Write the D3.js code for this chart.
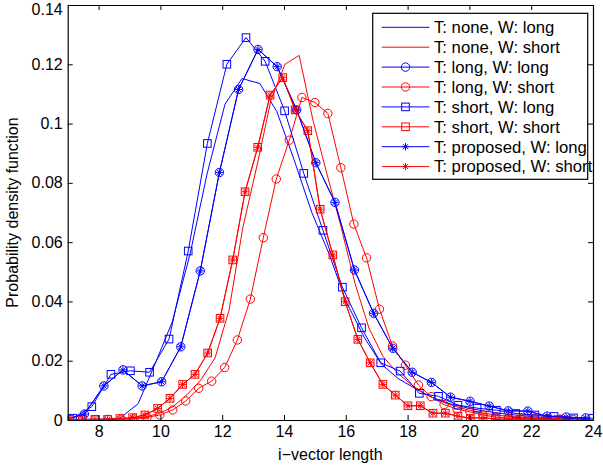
<!DOCTYPE html>
<html>
<head>
<meta charset="utf-8">
<script src="https://cdn.jsdelivr.net/npm/d3@7"></script>
<style>
  body { margin: 0; background: #fff; }
  svg { font-family: "Liberation Sans", Arial, sans-serif; }
</style>
</head>
<body>
<script>
// bin centres and pdf values
const xNoneLong = [7.01, 7.56, 8.14, 8.69, 9.28, 9.83, 10.38, 10.96, 11.51, 12.09, 12.64, 13.22, 13.77, 14.32, 14.90, 15.46, 16.01, 16.59, 17.14, 17.69, 18.27, 18.82, 19.37, 19.95, 20.50, 21.05, 21.64, 22.19, 22.74, 23.32, 23.87];
const yNoneLong = [0.0002, 0.0002, 0.0003, 0.0006, 0.0055, 0.019, 0.033, 0.056, 0.083, 0.1065, 0.1152, 0.1135, 0.104, 0.088, 0.070, 0.056, 0.040, 0.028, 0.019, 0.014, 0.0105, 0.0075, 0.0055, 0.004, 0.003, 0.0022, 0.0015, 0.001, 0.0007, 0.0005, 0.0003];

const xNoneShort = [7.24, 7.69, 8.14, 8.60, 9.05, 9.50, 9.96, 10.41, 10.86, 11.31, 11.77, 12.22, 12.67, 13.13, 13.58, 14.03, 14.49, 14.94, 15.39, 15.85, 16.30, 16.75, 17.20, 17.66, 18.11, 18.56, 19.02, 19.47, 19.92, 20.38, 20.83, 21.28, 21.73, 22.19, 22.64, 23.09, 23.55, 24.00];
const yNoneShort = [0, 0, 0.0001, 0.0002, 0.0004, 0.001, 0.0022, 0.0045, 0.0085, 0.0135, 0.021, 0.037, 0.065, 0.086, 0.108, 0.120, 0.123, 0.101, 0.083, 0.065, 0.046, 0.031, 0.0215, 0.016, 0.012, 0.0088, 0.0065, 0.0048, 0.0035, 0.0025, 0.0017, 0.0012, 0.0009, 0.0006, 0.0004, 0.0003, 0.0002, 0.0001];

const xLongLong = [6.92, 7.54, 8.17, 8.79, 9.41, 10.04, 10.66, 11.29, 11.91, 12.53, 13.16, 13.78, 14.41, 15.03, 15.65, 16.28, 16.90, 17.52, 18.15, 18.77, 19.39, 20.02, 20.64, 21.26, 21.89, 22.51, 23.13, 23.76];
const yLongLong = [0.0001, 0.002, 0.0115, 0.0169, 0.0115, 0.0129, 0.0247, 0.0503, 0.0835, 0.1115, 0.125, 0.1192, 0.1046, 0.0868, 0.0734, 0.0506, 0.036, 0.0242, 0.0161, 0.0127, 0.0077, 0.0063, 0.0047, 0.0031, 0.0030, 0.0013, 0.0010, 0.0007];

const xLongShort = [7.06, 7.48, 7.89, 8.31, 8.73, 9.15, 9.57, 9.98, 10.40, 10.82, 11.24, 11.66, 12.08, 12.49, 12.91, 13.33, 13.75, 14.17, 14.58, 15.00, 15.42, 15.84, 16.26, 16.67, 17.09, 17.51, 17.93, 18.35, 18.76, 19.18, 19.60, 20.02, 20.44, 20.85, 21.27, 21.69, 22.11, 22.53, 22.94, 23.36];
const yLongShort = [0.0001, 0.0001, 0.0001, 0.0002, 0.0003, 0.0004, 0.0009, 0.0017, 0.0034, 0.0064, 0.0107, 0.0131, 0.0177, 0.0270, 0.0408, 0.0615, 0.0813, 0.0944, 0.1088, 0.1071, 0.1034, 0.0851, 0.0661, 0.0547, 0.0374, 0.0250, 0.0185, 0.0118, 0.0079, 0.0052, 0.0037, 0.0027, 0.0017, 0.0010, 0.0006, 0.0006, 0.0005, 0.0005, 0.0003, 0.0002];

const xShortLong = [7.16, 7.78, 8.40, 9.03, 9.65, 10.28, 10.90, 11.52, 12.15, 12.77, 13.39, 14.02, 14.64, 15.26, 15.89, 16.51, 17.13, 17.76, 18.38, 19.00, 19.63, 20.25, 20.87, 21.50, 22.12, 22.74, 23.37, 23.99];
const yShortLong = [0.0006, 0.0045, 0.0154, 0.0166, 0.0161, 0.0273, 0.057, 0.0933, 0.120, 0.129, 0.121, 0.1043, 0.0832, 0.064, 0.0448, 0.0311, 0.0193, 0.0165, 0.0090, 0.0080, 0.0050, 0.0040, 0.0033, 0.0022, 0.0017, 0.0012, 0.0007, 0.0006];

const xShortShort = [7.07, 7.48, 7.88, 8.29, 8.69, 9.10, 9.50, 9.91, 10.31, 10.72, 11.12, 11.53, 11.93, 12.34, 12.74, 13.15, 13.55, 13.96, 14.36, 14.77, 15.17, 15.58, 15.98, 16.39, 16.79, 17.20, 17.60, 18.01, 18.41, 18.82, 19.22, 19.63, 20.03, 20.44, 20.84, 21.25, 21.65, 22.06, 22.46, 22.87];
const yShortShort = [0.0002, 0.0002, 0.0002, 0.0002, 0.0005, 0.0008, 0.0017, 0.0039, 0.0073, 0.0120, 0.0154, 0.0226, 0.0343, 0.0540, 0.0770, 0.0920, 0.1096, 0.1155, 0.1046, 0.0976, 0.0711, 0.0557, 0.0399, 0.0272, 0.0193, 0.0120, 0.0084, 0.0048, 0.0048, 0.0023, 0.0023, 0.0013, 0.0006, 0.0008, 0.0003, 0.0003, 0.0003, 0.0003, 0.0002, 0.0002];

// the proposed selection lands on the matched-length curves
const xPropLong = xLongLong, yPropLong = yLongLong;
const xPropShort = xShortShort, yPropShort = yShortShort;

const xTicks = [8, 10, 12, 14, 16, 18, 20, 22, 24];
const yTicks = [0, 0.02, 0.04, 0.06, 0.08, 0.1, 0.12, 0.14];

const seriesNames = ['T: none, W: long', 'T: none, W: short', 'T: long, W: long', 'T: long, W: short',
  'T: short, W: long', 'T: short, W: short', 'T: proposed, W: long', 'T: proposed, W: short'];

const BLUE = '#0000ff', RED = '#ff0000';
const series = [
  {name: seriesNames[0], xs: xNoneLong, ys: yNoneLong, color: BLUE, marker: null},
  {name: seriesNames[1], xs: xNoneShort, ys: yNoneShort, color: RED, marker: null},
  {name: seriesNames[2], xs: xLongLong, ys: yLongLong, color: BLUE, marker: 'circle'},
  {name: seriesNames[3], xs: xLongShort, ys: yLongShort, color: RED, marker: 'circle'},
  {name: seriesNames[4], xs: xShortLong, ys: yShortLong, color: BLUE, marker: 'square'},
  {name: seriesNames[5], xs: xShortShort, ys: yShortShort, color: RED, marker: 'square'},
  {name: seriesNames[6], xs: xPropLong, ys: yPropLong, color: BLUE, marker: 'star'},
  {name: seriesNames[7], xs: xPropShort, ys: yPropShort, color: RED, marker: 'star'}
];

const width = 603, height = 468;
const margin = {top: 5, right: 10, bottom: 48, left: 67.7};

const svg = d3.select('body').append('svg')
    .attr('width', width)
    .attr('height', height);

const x = d3.scaleLinear()
    .domain([7, 24])
    .range([margin.left, width - margin.right]);

const y = d3.scaleLinear()
    .domain([0, 0.14])
    .range([height - margin.bottom, margin.top]);

svg.append('clipPath').attr('id', 'plotclip')
  .append('rect')
    .attr('x', x(7)).attr('y', y(0.14))
    .attr('width', x(24) - x(7)).attr('height', y(0) - y(0.14));

const line = d3.line();

function drawMarker(g, type, cx, cy, color) {
    if (type === 'circle') {
        g.append('circle').attr('cx', cx).attr('cy', cy).attr('r', 4.2)
            .attr('fill', 'none').attr('stroke', color).attr('stroke-width', 1);
    } else if (type === 'square') {
        g.append('rect').attr('x', cx - 3.8).attr('y', cy - 3.8).attr('width', 7.6).attr('height', 7.6)
            .attr('fill', 'none').attr('stroke', color).attr('stroke-width', 1);
    } else if (type === 'star') {
        const r = 3.6, d = r * 0.72;
        g.append('path')
            .attr('d', `M${cx - r},${cy}L${cx + r},${cy}M${cx},${cy - r}L${cx},${cy + r}` +
                       `M${cx - d},${cy - d}L${cx + d},${cy + d}M${cx - d},${cy + d}L${cx + d},${cy - d}`)
            .attr('fill', 'none').attr('stroke', color).attr('stroke-width', 1);
    }
}

const plot = svg.append('g').attr('clip-path', 'url(#plotclip)');

series.forEach(s => {
    const pts = s.xs.map((v, i) => [x(v), y(s.ys[i])]);
    plot.append('path')
        .attr('d', line(pts))
        .attr('fill', 'none')
        .attr('stroke', s.color)
        .attr('stroke-width', 1);
    if (s.marker) {
        const mg = plot.append('g');
        pts.forEach(p => drawMarker(mg, s.marker, p[0], p[1], s.color));
    }
});

// axes, MATLAB style: ticks inside on all four sides
const fmtY = d => d === 0 ? '0' : String(+d.toFixed(2));

svg.append('g')
    .attr('transform', `translate(0, ${y(0)})`)
    .call(d3.axisBottom(x).tickValues(xTicks).tickSizeInner(-5).tickSizeOuter(0).tickPadding(6));
svg.append('g')
    .attr('transform', `translate(0, ${y(0.14)})`)
    .call(d3.axisTop(x).tickValues(xTicks).tickSizeInner(-5).tickSizeOuter(0).tickFormat(''));
svg.append('g')
    .attr('transform', `translate(${x(7)}, 0)`)
    .call(d3.axisLeft(y).tickValues(yTicks).tickSizeInner(-5).tickSizeOuter(0).tickPadding(5).tickFormat(fmtY));
svg.append('g')
    .attr('transform', `translate(${x(24)}, 0)`)
    .call(d3.axisRight(y).tickValues(yTicks).tickSizeInner(-5).tickSizeOuter(0).tickFormat(''));

svg.selectAll('.domain').attr('stroke', '#000').attr('stroke-width', 1.2);
svg.selectAll('.tick line').attr('stroke', '#000');
svg.selectAll('.tick text').attr('font-size', 16).attr('font-family', '"Liberation Sans", Arial, sans-serif').attr('fill', '#000');

// keep the top y label inside the picture
svg.selectAll('.tick text').filter(d => d === 0.14).attr('dy', '0.62em');

svg.append('text')
    .attr('x', (x(7) + x(24)) / 2)
    .attr('y', 460)
    .attr('text-anchor', 'middle')
    .attr('font-size', 16)
    .text('i\u2212vector length');

svg.append('text')
    .attr('transform', `translate(18, ${(y(0) + y(0.14)) / 2}) rotate(-90)`)
    .attr('text-anchor', 'middle')
    .attr('font-size', 16)
    .text('Probability density function');

// legend
const lg = svg.append('g').attr('transform', 'translate(372.7, 13.3)');
lg.append('rect')
    .attr('width', 215).attr('height', 166)
    .attr('fill', '#fff').attr('stroke', '#000').attr('stroke-width', 1.2);

series.forEach((s, i) => {
    const ry = 14 + i * 19.9;
    lg.append('line')
        .attr('x1', 9).attr('x2', 56.6).attr('y1', ry).attr('y2', ry)
        .attr('stroke', s.color).attr('stroke-width', 1);
    if (s.marker) drawMarker(lg, s.marker, 32.8, ry, s.color);
    lg.append('text')
        .attr('x', 61.3).attr('y', ry)
        .attr('dy', '0.35em')
        .attr('font-size', 16.7)
        .text(s.name);
});
</script>
</body>
</html>
